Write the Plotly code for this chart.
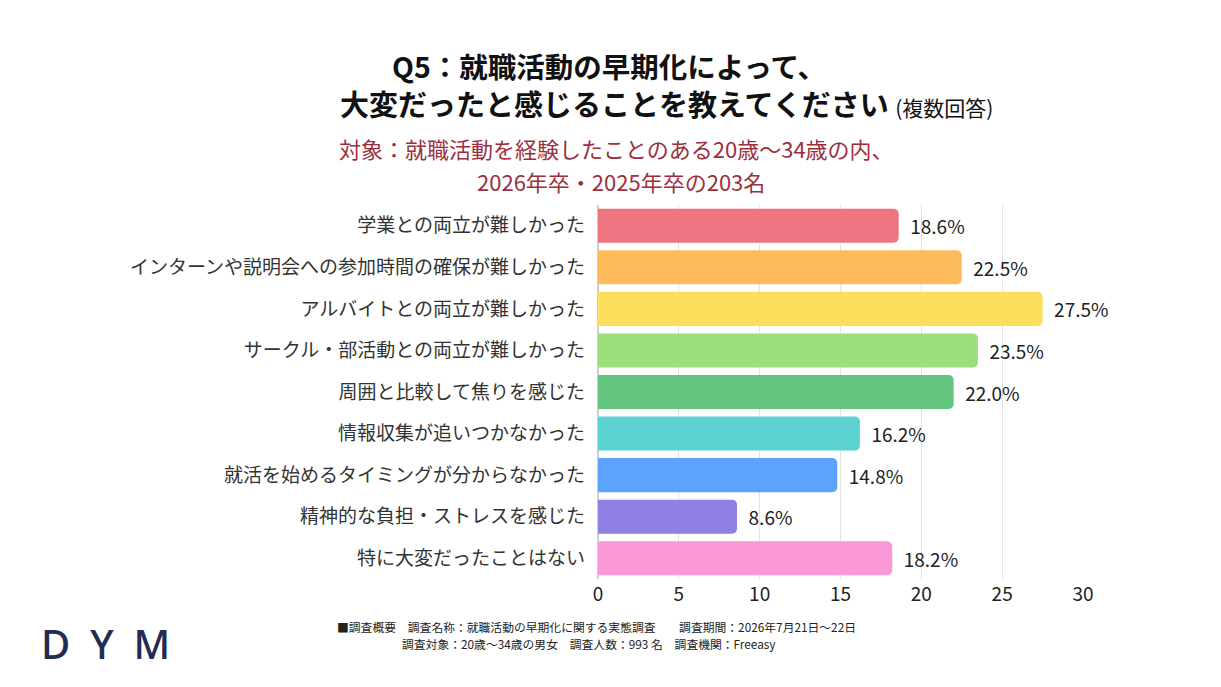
import plotly.graph_objects as go

categories = [
    "学業との両立が難しかった",
    "インターンや説明会への参加時間の確保が難しかった",
    "アルバイトとの両立が難しかった",
    "サークル・部活動との両立が難しかった",
    "周囲と比較して焦りを感じた",
    "情報収集が追いつかなかった",
    "就活を始めるタイミングが分からなかった",
    "精神的な負担・ストレスを感じた",
    "特に大変だったことはない",
]
values = [18.6, 22.5, 27.5, 23.5, 22.0, 16.2, 14.8, 8.6, 18.2]
colors = ["#EC7580", "#FDBB5B", "#FDDD5C", "#9ADF7A", "#63C57E",
          "#5DD3D1", "#5BA3FC", "#8F80E6", "#FB98D6"]
x_ticks = [0, 5, 10, 15, 20, 25, 30]

FONT = "Noto Sans CJK JP"

OFF = 8  # page body margin
# plot area in screen pixels (reference)
L, R, T, B = 598, 1083, 205, 579
W, H = 1221 - 2 * OFF, 687 - 2 * OFF


def fx(px):
    return (px - L) / (R - L)


def fy(py):
    return (B - py) / (B - T)


fig = go.Figure()
fig.add_trace(go.Bar(
    y=categories,
    x=values,
    orientation="h",
    marker=dict(color=colors, line=dict(width=0)),
    texttemplate="  %{x:.1f}%",
    textposition="outside",
    textfont=dict(family=FONT, size=19, color="#222222"),
    cliponaxis=False,
    constraintext="none",
    hoverinfo="skip",
))

annotations = [
    dict(x=fx(390), y=fy(65), xanchor="left", yanchor="middle",
         text="<b>Q5：就職活動の早期化によって、</b>",
         font=dict(family=FONT, size=28.5, color="#111111")),
    dict(x=fx(338), y=fy(103), xanchor="left", yanchor="middle",
         text="<b>大変だったと感じることを教えてください</b> <span style='font-size:21px'>(複数回答)</span>",
         font=dict(family=FONT, size=29, color="#111111")),
    dict(x=fx(616), y=fy(148), xanchor="center", yanchor="middle",
         text="対象：就職活動を経験したことのある20歳～34歳の内、",
         font=dict(family=FONT, size=22, color="#9C2F3D")),
    dict(x=fx(621), y=fy(181), xanchor="center", yanchor="middle",
         text="2026年卒・2025年卒の203名",
         font=dict(family=FONT, size=22, color="#9C2F3D")),
    dict(x=fx(335), y=fy(626), xanchor="left", yanchor="middle",
         text="■調査概要　調査名称：就職活動の早期化に関する実態調査　　調査期間：2026年7月21日～22日",
         font=dict(family=FONT, size=11.8, color="#222222")),
    dict(x=fx(400), y=fy(643), xanchor="left", yanchor="middle",
         text="調査対象：20歳～34歳の男女　調査人数：993 名　調査機関：Freeasy",
         font=dict(family=FONT, size=11.8, color="#222222")),
    dict(x=fx(39), y=fy(643), xanchor="left", yanchor="middle",
         text="D\u2002Y\u2002M",
         font=dict(family="Noto Sans", size=40, weight=500, color="#222B52")),
]
for a in annotations:
    a.update(xref="paper", yref="paper", showarrow=False)

fig.update_layout(
    width=W, height=H,
    margin=dict(l=L - OFF, r=(1221 - OFF) - R, t=T - OFF, b=(687 - OFF) - B,
                autoexpand=False),
    paper_bgcolor="white",
    plot_bgcolor="white",
    showlegend=False,
    bargap=0.18,
    barcornerradius=5,
    annotations=annotations,
    font=dict(family=FONT),
)
fig.update_xaxes(
    range=[0, 30],
    tickvals=x_ticks,
    ticktext=[str(t) for t in x_ticks],
    showgrid=True, gridcolor="#E3E3E3", gridwidth=1,
    zeroline=True, zerolinecolor="#D0D0D0",
    showline=False,
    ticks="",
    ticklabelstandoff=2,
    tickfont=dict(family=FONT, size=19, color="#222222"),
    fixedrange=True,
)
fig.update_yaxes(
    categoryorder="array",
    categoryarray=categories[::-1],
    showgrid=False,
    showline=False,
    ticks="",
    ticklabelstandoff=12,
    tickfont=dict(family=FONT, size=19, color="#333333"),
    fixedrange=True,
)

fig.write_html("out.html")
